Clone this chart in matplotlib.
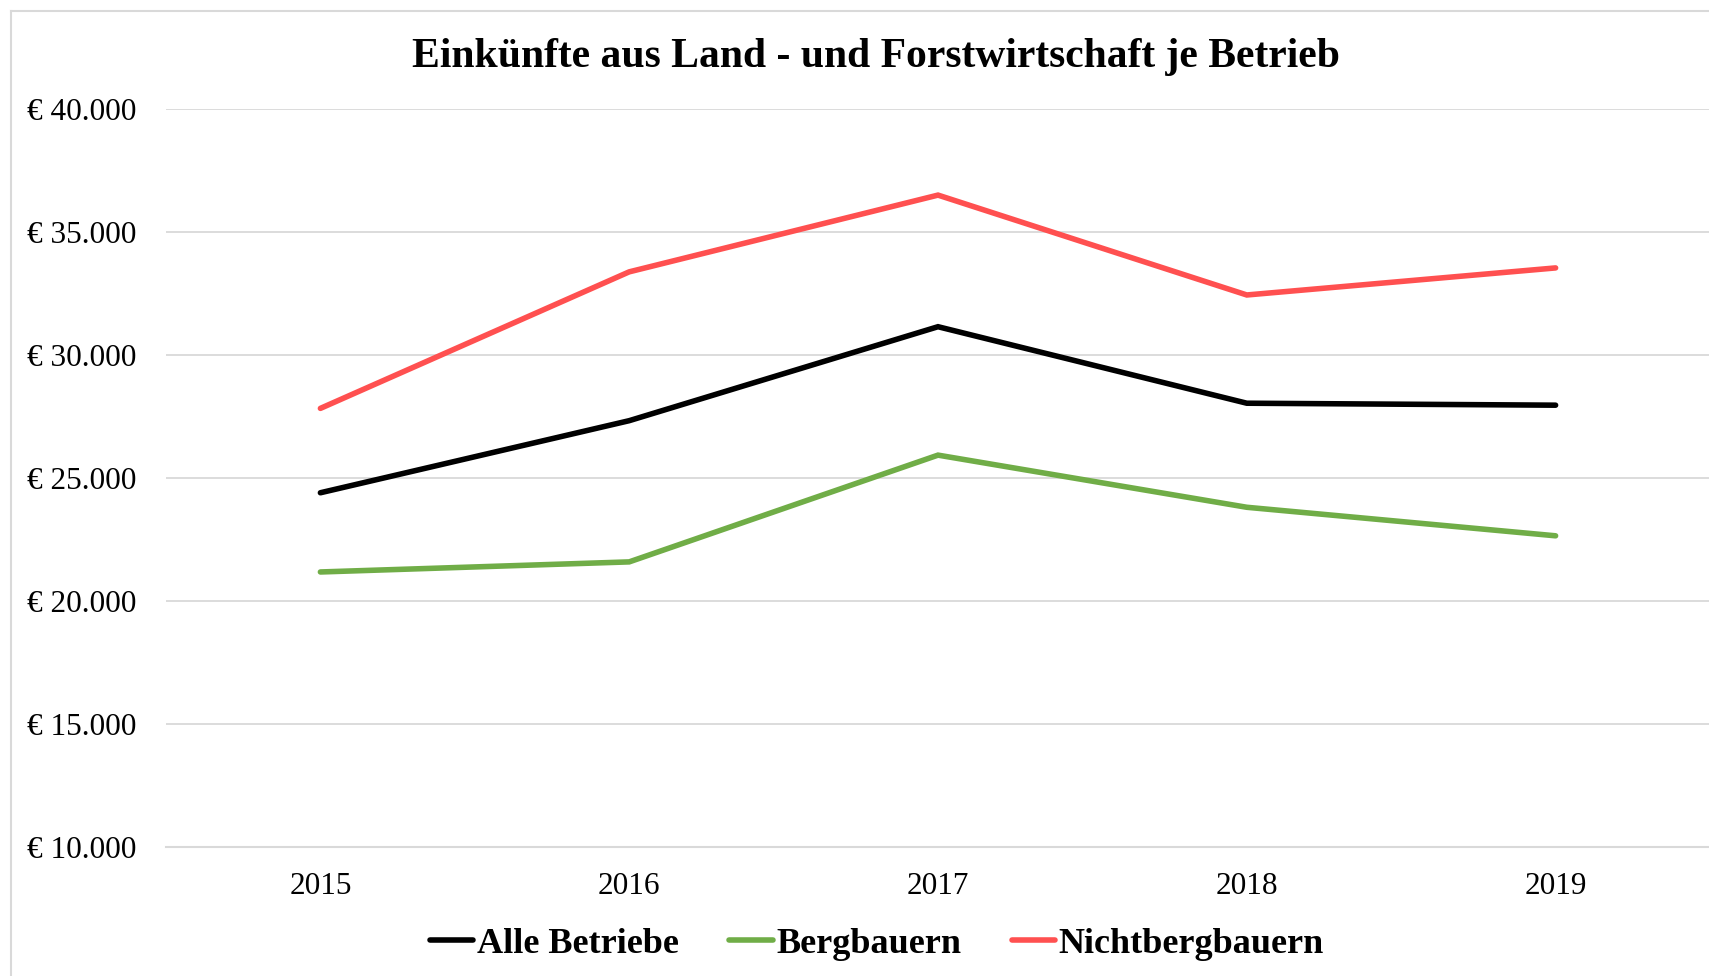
import matplotlib
matplotlib.use('Agg')
import matplotlib.pyplot as plt
from matplotlib.lines import Line2D
from matplotlib.ticker import FuncFormatter

years = ['2015', '2016', '2017', '2018', '2019']
alle_betriebe = [24400, 27330, 31150, 28040, 27960]
bergbauern = [21180, 21590, 25930, 23810, 22650]
nichtbergbauern = [27830, 33380, 36500, 32440, 33540]

series = [
    ('Alle Betriebe', alle_betriebe, '#000000'),
    ('Bergbauern', bergbauern, '#70AD47'),
    ('Nichtbergbauern', nichtbergbauern, '#FF5050'),
]

plt.rcParams['font.family'] = ['Liberation Serif', 'DejaVu Serif']

W, H = 1709, 976
fig = plt.figure(figsize=(W / 100, H / 100), dpi=100)
ax = fig.add_axes([166 / W, 1 - 847 / H, (1710 - 166) / W, (847 - 109) / H])

# chart area border (cropped at right and bottom)
fig.add_artist(Line2D([11 / W, 1.0], [1 - 11 / H, 1 - 11 / H], color='#D9D9D9', lw=1.5))
fig.add_artist(Line2D([11 / W, 11 / W], [0.0, 1 - 11 / H], color='#D9D9D9', lw=1.5))

x = list(range(len(years)))
for name, vals, col in series:
    ax.plot(x, vals, color=col, lw=4, solid_capstyle='round', solid_joinstyle='miter', label=name, zorder=3)

ax.set_xlim(-0.5, len(years) - 0.5)
ax.set_ylim(10000, 40000)
ax.set_yticks(range(10000, 40001, 5000))
ax.yaxis.set_major_formatter(FuncFormatter(lambda v, p: '€ ' + f'{int(v):,}'.replace(',', '.')))
ax.set_xticks(x)
ax.set_xticklabels(years)
ax.grid(axis='y', color='#D9D9D9', lw=1.3, zorder=0)
ax.set_axisbelow(True)
for s in ['top', 'right', 'left']:
    ax.spines[s].set_visible(False)
ax.spines['bottom'].set_color('#D9D9D9')
ax.spines['bottom'].set_linewidth(1.5)
ax.tick_params(axis='both', length=0, labelsize=22.5, colors='black')
ax.tick_params(axis='y', pad=21)
ax.tick_params(axis='x', pad=18)

fig.text(876 / W, 1 - 57 / H, 'Einkünfte aus Land - und Forstwirtschaft je Betrieb',
         ha='center', va='center', fontsize=30, fontweight='bold')

handles = [Line2D([0], [0], color=c, lw=4, solid_capstyle='round') for _, _, c in series]
fig.legend(handles, [n for n, _, _ in series], loc='center', bbox_to_anchor=(877 / W, 1 - 944 / H),
           ncol=3, frameon=False, prop={'weight': 'bold', 'size': 26},
           handlelength=1.2, handletextpad=0.1, columnspacing=1.4)

fig.savefig('out.png', dpi=100)
